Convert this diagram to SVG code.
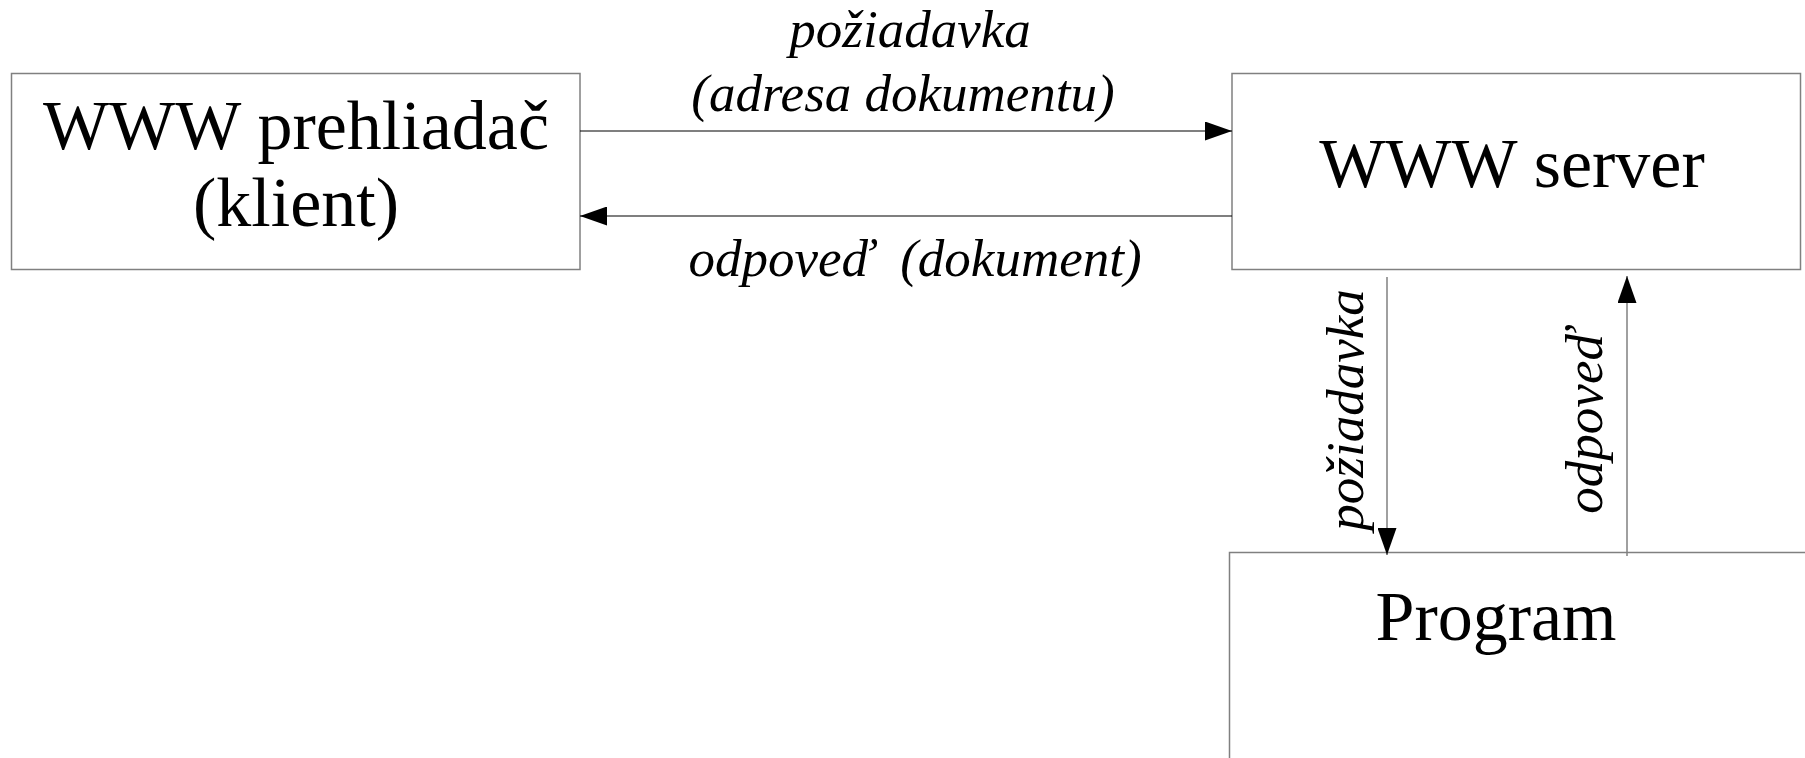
<svg xmlns="http://www.w3.org/2000/svg" width="1805" height="758" viewBox="0 0 1805 758">
<style>
.box{fill:#fff;stroke:#808080;stroke-width:1.5}
.lbl{fill:#000;text-anchor:middle;font-family:'Liberation Serif',serif}
.big{font-size:70px}
.it{font-size:53px;font-style:italic}
.conn{stroke:#000;stroke-width:1.2;fill:none}
.conn2{stroke:#808080;stroke-width:1.5;fill:none}
</style>
<defs>
<marker id="ah" viewBox="0 0 27 19" refX="27" refY="9.5" markerWidth="27" markerHeight="19" markerUnits="userSpaceOnUse" orient="auto">
<path d="M0,0 L27,9.5 L0,19 Z" fill="#000"/>
</marker>
</defs>
<rect width="1805" height="758" fill="#fff"/>
<g id="client">
<rect class="box" x="11.5" y="73.5" width="568.5" height="196"/>
<text class="lbl big" x="296" y="149">WWW prehliadač</text>
<text class="lbl big" x="296" y="226">(klient)</text>
</g>
<g id="server">
<rect class="box" x="1232" y="73.5" width="568.5" height="196"/>
<text class="lbl big" x="1512" y="187">WWW server</text>
</g>
<g id="program">
<rect class="box" x="1229.5" y="552.5" width="600" height="260"/>
<text class="lbl big" x="1496" y="640">Program</text>
</g>
<g id="connectors">
<line class="conn" x1="580" y1="131" x2="1232" y2="131" marker-end="url(#ah)"/>
<line class="conn" x1="1232" y1="216" x2="580" y2="216" marker-end="url(#ah)"/>
<line class="conn2" x1="1387" y1="277" x2="1387" y2="555" marker-end="url(#ah)"/>
<line class="conn2" x1="1627" y1="556" x2="1627" y2="276" marker-end="url(#ah)"/>
<text class="lbl it" x="910" y="47">požiadavka</text>
<text class="lbl it" x="903" y="111">(adresa dokumentu)</text>
<text class="lbl it" x="915" y="276" xml:space="preserve">odpoveď  (dokument)</text>
<text class="lbl it" transform="translate(1363,410) rotate(-90)">požiadavka</text>
<text class="lbl it" transform="translate(1602,421) rotate(-90)">odpoveď</text>
</g>
</svg>
